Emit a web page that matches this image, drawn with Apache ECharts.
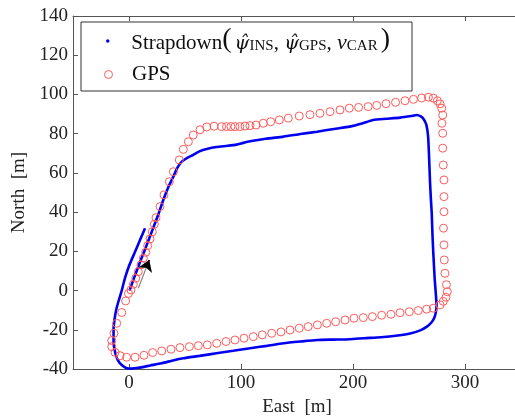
<!DOCTYPE html>
<html>
<head>
<meta charset="utf-8">
<script src="https://cdn.jsdelivr.net/npm/echarts@6/dist/echarts.min.js"></script>
<style>
html,body{margin:0;padding:0;background:#fff;}
#chart{width:515px;height:416px;}
</style>
</head>
<body>
<div id="chart"></div>
<script>
// ---- Data ----
var blueEast  = [0.5, 5, 10, 15, 20, 26, 30.6, 35, 39.6, 43, 46.5, 52, 57.4, 63.4, 69.4, 78, 88, 96, 102, 108, 122, 138, 153, 168, 183, 197, 208, 218, 230, 242, 252, 257, 260.5, 263, 265.5, 267, 267.8, 268.7, 269.5, 270.3, 271, 271.8, 273, 274, 274.6, 274, 272.5, 270, 266, 260, 251, 240, 225, 210, 197, 182, 168, 153, 138, 123, 108, 93, 78, 63, 48.5, 40, 29, 19, 8.3, 2, -2, -6.5, -10, -12.2, -13.8, -13.8, -13, -11.5, -9.5, -6.5, -3.6, 0, 5.4, 10, 14.3];
var blueNorth = [0, 7.2, 14.8, 22, 29.5, 38.5, 46.2, 52.6, 58.1, 62.4, 65.4, 67.6, 69.2, 71.1, 72.2, 73.2, 73.8, 74.4, 75.3, 76.1, 77.4, 78.5, 79.8, 81, 82.4, 83.6, 85.2, 87, 87.6, 88.2, 89, 89.5, 88.8, 87.5, 84.5, 79, 70, 56.4, 47, 39.4, 28, 18, 5.4, -2, -7.5, -11, -14, -16.3, -18.4, -20.3, -21.9, -22.9, -23.8, -24.3, -24.8, -25, -25.2, -26, -26.9, -28.2, -29.4, -30.7, -32, -33.3, -34.5, -35.5, -37.1, -38.2, -39.4, -39.8, -39.6, -38, -35.5, -32, -26, -20, -15, -10, -5.7, 0, 6.3, 12.5, 19.8, 26, 31.8];

var gpsEast  = [1.8, 3.9, 6, 8.3, 10.7, 12.8, 14.9, 16.7, 18.75, 20.8, 22.6, 24.1, 27.7, 31.25, 36, 39.6, 44.9, 48.5, 53, 57.4, 63.4, 69.4, 75.9, 82.7, 87, 91, 94.6, 99, 103.6, 108, 113.4, 119.9, 126.5, 134.2, 142.2, 152, 161.6, 170.5, 179.5, 188.4, 196.7, 205, 213.5, 221.2, 229.5, 238, 246.4, 254, 261.3, 267.3, 271.7, 275.3, 277.7, 279.2, 280.1, 279.4, 280.1, 280.1, 280.6, 281.2, 281.2, 281.2, 280.8, 281.2, 281.5, 282.1, 283.4, 284.2, 283, 280.6, 277.7, 271.7, 265.8, 258.3, 250.3, 242, 233.9, 225.6, 217.3, 209.2, 200.9, 192.9, 184.5, 176.5, 168.2, 160, 152, 143.75, 135.7, 127.4, 119, 111, 102.7, 94.6, 86.6, 78.3, 69.9, 61.9, 53.9, 45.5, 37.5, 29.2, 21.1, 13.4, 5.4, -2.1, -8, -12.5, -15.4, -15.4, -13.4, -11, -6.5, -3, -0.5];
var gpsNorth = [0.3, 3.2, 6.3, 9.6, 13.1, 16.5, 19.5, 22.9, 26.3, 30, 33.8, 37.2, 42.8, 48.8, 55.5, 60.6, 66.6, 72, 75.9, 79.3, 82, 83.4, 83.8, 83.6, 83.6, 83.6, 83.6, 83.6, 83.9, 84.1, 84.4, 85.3, 86.1, 87, 87.9, 89, 89.7, 90.4, 91.2, 92.1, 93, 93.4, 93.8, 94.4, 95.3, 96, 96.8, 97.5, 98.2, 98.6, 98.1, 96.8, 95.2, 93, 89.5, 85.3, 80.2, 72.6, 64, 56.4, 47.9, 40.2, 31.8, 23.3, 15.6, 8.8, 3, -0.6, -3.4, -5.5, -7.3, -9, -9.5, -10.2, -10.8, -11.3, -12.1, -12.6, -13.3, -13.8, -14.1, -15, -15.9, -16.7, -17.5, -18.4, -19.2, -20.1, -21.1, -21.8, -22.6, -23.5, -24.3, -25.2, -26, -26.9, -27.7, -28.1, -28.6, -29.1, -29.9, -30.8, -31.6, -33, -34, -34, -33.2, -31.5, -28.6, -25.5, -21.8, -16.7, -11.2, -5.3, -1.5];

var arrowTail = [8.3, 1.2];
var arrowNeck = [15.6, 12.0];
var arrowTip  = [18.1, 15.6];

var xTickValues = [0, 100, 200, 300];
var xRange = [-50, 350];
var yRange = [-40, 140];
var yStep = 20;

var seriesNames = ['Strapdown', 'GPS'];

// ---- Build ----
function pairs(xs, ys) { var r = []; for (var i = 0; i < xs.length; i++) r.push([xs[i], ys[i]]); return r; }

var FONT = 'Liberation Serif';
var AX = '#555';
var TXT = '#222';

var chart = echarts.init(document.getElementById('chart'), null, {renderer: 'canvas'});

var option = {
  animation: false,
  backgroundColor: '#fff',
  grid: {left: 73, top: 16, width: 448, height: 353, containLabel: false, outerBoundsMode: 'none'},
  graphic: [{
    type: 'rect', z: 1,
    shape: {x: 81, y: 22, width: 331, height: 69},
    style: {fill: '#fff', stroke: '#333', lineWidth: 1}
  }],
  legend: [{
    data: [{name: seriesNames[0], icon: 'circle'}],
    left: 106, top: 26, padding: 0,
    itemWidth: 37, itemHeight: 3.5,
    z: 10,
    formatter: function () {
      return '{a|Strapdown}{p|(}{g|}{i|ψ̂}{s|INS}{a|, }{i|ψ̂}{s|GPS}{a|, }{v|v}{s|CAR}{g|}{p|)}';
    },
    textStyle: {
      fontFamily: FONT, color: '#111',
      rich: {
        a: {fontFamily: FONT, fontSize: 21, color: '#111', verticalAlign: 'bottom', lineHeight: 26},
        p: {fontFamily: FONT, fontSize: 28, color: '#111', verticalAlign: 'bottom', lineHeight: 26},
        g: {width: 3, fontSize: 10, lineHeight: 10},
        i: {fontFamily: 'DejaVu Serif', fontSize: 19, fontStyle: 'italic', color: '#111', verticalAlign: 'bottom', lineHeight: 25},
        v: {fontFamily: FONT, fontSize: 22, fontStyle: 'italic', color: '#111', verticalAlign: 'bottom', lineHeight: 26},
        s: {fontFamily: FONT, fontSize: 15, color: '#111', verticalAlign: 'bottom', lineHeight: 15}
      }
    }
  }, {
    data: [{name: seriesNames[1], icon: 'circle', itemStyle: {color: 'rgba(0,0,0,0)', borderColor: '#ff5a5a', borderWidth: 1}}],
    left: 104, top: 64, padding: 0,
    itemWidth: 37, itemHeight: 8,
    z: 10,
    textStyle: {fontFamily: FONT, fontSize: 21, color: '#111'}
  }],
  xAxis: [{
    type: 'value', gridIndex: 0, position: 'bottom',
    min: xRange[0], max: xRange[1],
    axisLine: {show: true, onZero: false, lineStyle: {color: AX, width: 1}},
    axisTick: {show: true, inside: true, length: 5, customValues: xTickValues, lineStyle: {color: AX}},
    axisLabel: {customValues: xTickValues, fontFamily: FONT, fontSize: 19, color: TXT, margin: 5},
    splitLine: {show: false},
    name: 'East  [m]', nameLocation: 'middle', nameGap: 27,
    nameTextStyle: {fontFamily: FONT, fontSize: 19, color: TXT}
  }, {
    type: 'value', gridIndex: 0, position: 'top',
    min: xRange[0], max: xRange[1],
    axisLine: {show: true, onZero: false, lineStyle: {color: AX, width: 1}},
    axisTick: {show: true, inside: true, length: 5, customValues: xTickValues, lineStyle: {color: AX}},
    axisLabel: {show: false},
    splitLine: {show: false}
  }],
  yAxis: [{
    type: 'value', gridIndex: 0, position: 'left',
    min: yRange[0], max: yRange[1], interval: yStep,
    axisLine: {show: true, onZero: false, lineStyle: {color: AX, width: 1}},
    axisTick: {show: true, inside: true, length: 5, lineStyle: {color: AX}},
    axisLabel: {fontFamily: FONT, fontSize: 19, color: TXT, margin: 5},
    splitLine: {show: false},
    name: 'North  [m]', nameLocation: 'middle', nameGap: 40, nameRotate: 90,
    nameTextStyle: {fontFamily: FONT, fontSize: 19, color: TXT}
  }],
  series: [{
    name: seriesNames[0], type: 'line',
    xAxisIndex: 0, yAxisIndex: 0,
    data: pairs(blueEast, blueNorth),
    showSymbol: false, smooth: 0.2,
    lineStyle: {color: '#0000ee', width: 2.6},
    itemStyle: {color: '#0000ee'},
    z: 2,
    markLine: {
      silent: true, animation: false,
      label: {show: false},
      data: [
        [{coord: arrowTail, symbol: 'none', lineStyle: {color: '#888', width: 1.2, type: 'solid'}},
         {coord: arrowTip, symbol: 'none'}],
        [{coord: arrowNeck, symbol: 'none', lineStyle: {color: '#000', width: 1.5, type: 'solid'}},
         {coord: arrowTip, symbol: 'arrow', symbolSize: 11}]
      ]
    }
  }, {
    name: seriesNames[1], type: 'scatter',
    xAxisIndex: 0, yAxisIndex: 0,
    data: pairs(gpsEast, gpsNorth),
    symbol: 'circle', symbolSize: 8,
    itemStyle: {color: 'rgba(0,0,0,0)', borderColor: '#ff5a5a', borderWidth: 1, opacity: 1},
    z: 3
  }]
};
chart.setOption(option);
</script>
</body>
</html>
